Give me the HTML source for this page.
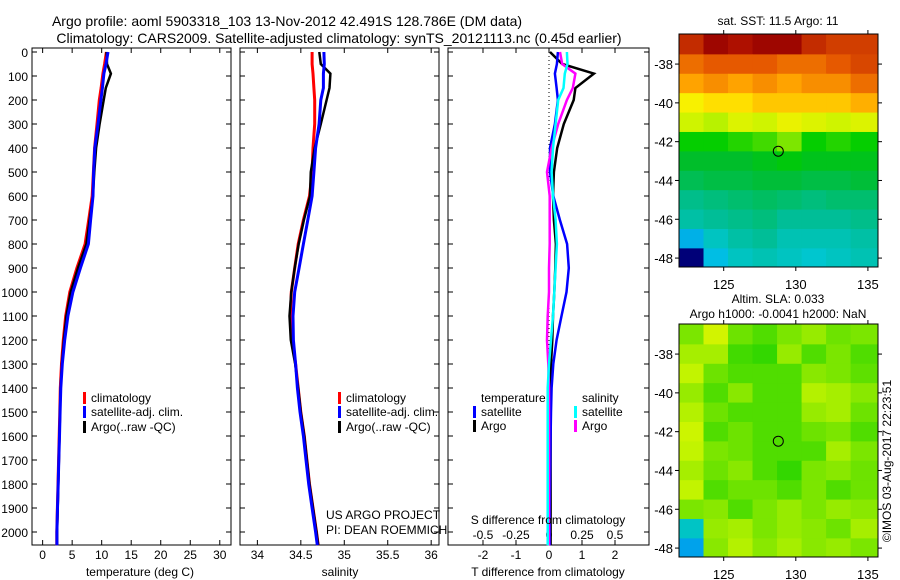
<!DOCTYPE html>
<html><head><meta charset="utf-8"><style>
html,body{margin:0;padding:0;background:#fff;}
svg{display:block;font-family:"Liberation Sans",sans-serif;}
</style></head><body>
<svg id="fig" width="900" height="580" viewBox="0 0 900 580">
<text x="287" y="26" font-size="14" text-anchor="middle">Argo profile: aoml 5903318_103 13-Nov-2012 42.491S 128.786E (DM data)</text>
<text x="339" y="43" font-size="14" text-anchor="middle">Climatology: CARS2009. Satellite-adjusted climatology: synTS_20121113.nc (0.45d earlier)</text>
<text x="778" y="25" font-size="12" text-anchor="middle">sat. SST: 11.5 Argo: 11</text>
<text x="778" y="303" font-size="12" text-anchor="middle">Altim. SLA: 0.033</text>
<text x="778" y="318" font-size="12" text-anchor="middle">Argo h1000: -0.0041 h2000: NaN</text>
<text transform="translate(891,461) rotate(-90)" font-size="12" text-anchor="middle">©IMOS 03-Aug-2017 22:23:51</text>
<text x="326" y="519" font-size="12">US ARGO PROJECT</text>
<text x="326" y="534" font-size="12">PI: DEAN ROEMMICH</text>
</svg>
<script>
const depths=[0,50,90,150,200,300,400,500,600,700,800,900,1000,1100,1200,1300,1400,1500,1600,1700,1800,1900,2000,2055];
const tClim=[10.8,10.5,10.2,9.9,9.6,9.2,8.8,8.6,8.4,7.8,7.2,5.8,4.6,3.9,3.5,3.2,3.0,2.9,2.8,2.7,2.6,2.5,2.4,2.4];
const tSatDiff=[0.27,0.24,0.18,0.23,0.27,0.18,0.03,0.03,0.13,0.33,0.55,0.6,0.53,0.38,0.23,0.13,0.08,0.06,0.05,0.04,0.03,0.02,0.02,0.02];
const tArgoDiff=[0.03,0.4,1.36,0.8,0.75,0.45,0.25,0.15,0.12,0.15,0.21,0.19,0.16,0.12,0.1,0.06,0.05,0.05,0.05,0.05,0.05,0.05,0.05,0.05];
const sClim=[34.63,34.63,34.64,34.65,34.66,34.66,34.64,34.63,34.6,34.53,34.47,34.43,34.39,34.38,34.4,34.44,34.47,34.5,34.54,34.57,34.6,34.64,34.68,34.7];
const sSatDiff=[0.136,0.14,0.12,0.11,0.07,0.05,0.03,0.02,0.03,0.05,0.06,0.05,0.04,0.03,0.015,0,-0.01,-0.01,-0.01,-0.01,-0.01,-0.01,-0.01,-0.01];
const sArgoDiff=[0.083,0.1,0.2,0.18,0.136,0.07,0.02,-0.015,0.005,0.005,0.005,0,0,-0.01,-0.015,-0.005,0,0,0,0,0,0,0,0];
const depthTicks=[0,100,200,300,400,500,600,700,800,900,1000,1100,1200,1300,1400,1500,1600,1700,1800,1900,2000];
const tTicks=[0,5,10,15,20,25,30];
const sTicks=[34,34.5,35,35.5,36];
const dTTicks=[-2,-1,0,1,2];
const dSTicks=[-0.5,-0.25,0,0.25,0.5];
const lonTicks=[125,130,135];
const latTicks=[-38,-40,-42,-44,-46,-48];
const lonEdges=[121.9,123.6,125.3,127.0,128.7,130.4,132.1,133.8,135.7];
const latEdges=[-36.45,-37.5,-38.5,-39.5,-40.5,-41.5,-42.5,-43.5,-44.5,-45.5,-46.5,-47.5,-48.46];
const sstGrid=[
[14.5,15,14.8,15,15,14.5,14.3,14.3],
[13.8,14,14,14,13.8,13.8,14,14.2],
[13.3,13.5,13.3,13.5,13.3,13.5,13.5,13.8],
[12.6,12.8,12.8,13,13,13,13,13.2],
[12.3,12.2,12.4,12.3,12.5,12.4,12.3,12.4],
[11.6,11.6,11.7,11.8,12,11.6,11.7,11.6],
[11.3,11.3,11.3,11.4,11.5,11.4,11.4,11.4],
[11,11.1,11.1,11.2,11.2,11.1,11.1,11.2],
[10.6,10.7,10.8,10.9,10.8,10.7,10.8,10.8],
[10.4,10.5,10.6,10.7,10.5,10.5,10.5,10.6],
[9.8,10.2,10.4,10.5,10.3,10.3,10.3,10.4],
[8.5,9.9,10.2,10.3,10.2,10.1,10.2,10.3]];
const slaGrid=[
[0.03,0.1,0.02,0,0.03,0.05,0.02,0.03],
[0.06,0.06,-0.01,-0.02,0.05,0,0.03,0],
[0.08,0.02,0,0,0,0.04,0.03,0.01],
[0.05,0,0.04,0,0,0.07,0.06,0.04],
[0.07,0.02,0,0,0,0.05,0.06,0.02],
[0.09,0,0.02,0,0,0.02,0.03,0],
[0.08,0.03,0.02,0,0,0,0.06,0.03],
[0.06,0.02,0.04,0,-0.02,0.03,0.04,0.02],
[0.08,0,0.02,0.02,0,0.03,0,0.02],
[0.03,0.04,0,0.03,0.05,0.03,0.05,0.04],
[-0.35,0.05,0.06,0.03,0.05,0.04,0.02,0.06],
[-0.45,0.04,0.07,0.04,0.06,0.04,0.05,0.03]];
const argoLon=128.786, argoLat=-42.491;

const NS='http://www.w3.org/2000/svg';
const svg=document.getElementById('fig');
function mk(tag,attrs,parent){const e=document.createElementNS(NS,tag);for(const k in attrs)e.setAttribute(k,attrs[k]);(parent||svg).appendChild(e);return e;}
const yD=d=>52+(d/2000)*480;
const PT=48,PB=545;
function panel(x0,x1,xmin,xmax,name){
  const sx=v=>x0+(v-xmin)/(xmax-xmin)*(x1-x0);
  const r=mk('rect',{x:x0,y:PT,width:x1-x0,height:PB-PT,fill:'none',stroke:'#000','stroke-width':1});
  
  
  depthTicks.forEach(d=>{
    const l=mk('line',{x1:x0,x2:x0+5,y1:yD(d),y2:yD(d),stroke:'#000'});
    
    
    const l2=mk('line',{x1:x1-5,x2:x1,y1:yD(d),y2:yD(d),stroke:'#000'});
    
    
  });
  return sx;
}
function line(pts,color,w,name){
  const p=mk('polyline',{points:pts.map(q=>q[0].toFixed(1)+','+q[1].toFixed(1)).join(' '),fill:'none',stroke:color,'stroke-width':w,'stroke-linejoin':'miter'});
  
  
}
function xticks(sx,ticks,name,labelY,fmt){
  ticks.forEach(v=>{
    const x=sx(v);
    const a=mk('line',{x1:x,x2:x,y1:PB,y2:PB-5,stroke:'#000'});
    
    
    const b=mk('line',{x1:x,x2:x,y1:PT,y2:PT+5,stroke:'#000'});
    
    
    if(labelY){const t=mk('text',{x:x,y:labelY,'font-size':12,'text-anchor':'middle'});t.textContent=fmt?fmt(v):String(v);
    
    }
  });
}
function legendItem(x,y,color,label,name){
  const b=mk('rect',{x:x,y:y-10,width:3,height:12,fill:color});
  
  
  const t=mk('text',{x:x+8,y:y,'font-size':12});t.textContent=label;
  
  
}
depthTicks.forEach(d=>{const t=mk('text',{x:28,y:yD(d)+5,'font-size':12,'text-anchor':'end'});t.textContent=d;
  
  });

const sxT=panel(32,231,-1.8,31.9,'temperature-panel');
xticks(sxT,tTicks,'temperature-axis',559);
line(depths.map((d,i)=>[sxT(tClim[i]),yD(d)]),'#ff0000',3,'temperature-climatology-line');
line(depths.map((d,i)=>[sxT(tClim[i]+tArgoDiff[i]),yD(d)]),'#000000',2.5,'temperature-argo-line');
line(depths.map((d,i)=>[sxT(tClim[i]+tSatDiff[i]),yD(d)]),'#0000ff',3,'temperature-satellite-line');
{const t=mk('text',{x:140,y:576,'font-size':12,'text-anchor':'middle'});t.textContent='temperature (deg C)';
}
legendItem(83,402,'#ff0000','climatology','temp-legend-climatology');
legendItem(83,416,'#0000ff','satellite-adj. clim.','temp-legend-satellite');
legendItem(83,431,'#000000','Argo(..raw -QC)','temp-legend-argo');

const sxS=panel(240,439,33.8,36.09,'salinity-panel');
xticks(sxS,sTicks,'salinity-axis',559);
line(depths.map((d,i)=>[sxS(sClim[i]),yD(d)]),'#ff0000',3,'salinity-climatology-line');
line(depths.map((d,i)=>[sxS(sClim[i]+sArgoDiff[i]),yD(d)]),'#000000',2.5,'salinity-argo-line');
line(depths.map((d,i)=>[sxS(sClim[i]+sSatDiff[i]),yD(d)]),'#0000ff',3,'salinity-satellite-line');
{const t=mk('text',{x:340,y:576,'font-size':12,'text-anchor':'middle'});t.textContent='salinity';
}
legendItem(338,402,'#ff0000','climatology','sal-legend-climatology');
legendItem(338,416,'#0000ff','satellite-adj. clim.','sal-legend-satellite');
legendItem(338,431,'#000000','Argo(..raw -QC)','sal-legend-argo');

const sxdT=panel(448,649,-3.06,3.03,'difference-panel');
const sxdS=v=>sxdT(v*4);
xticks(sxdT,dTTicks,'t-diff-axis',559);
dSTicks.forEach(v=>{const t=mk('text',{x:sxdS(v),y:539,'font-size':12,'text-anchor':'middle'});t.textContent=String(v);
  });
{const z=mk('line',{x1:sxdT(0),x2:sxdT(0),y1:PT,y2:PB,stroke:'#000','stroke-dasharray':'1,3'});
}
line(depths.map((d,i)=>[sxdT(tArgoDiff[i]),yD(d)]),'#000000',2.5,'t-diff-argo-line');
line(depths.map((d,i)=>[sxdT(tSatDiff[i]),yD(d)]),'#0000ff',2.5,'t-diff-satellite-line');
line(depths.map((d,i)=>[sxdS(sArgoDiff[i]),yD(d)]),'#ff00ff',2.5,'s-diff-argo-line');
line(depths.map((d,i)=>[sxdS(sSatDiff[i]),yD(d)]),'#00ffff',2.5,'s-diff-satellite-line');
{const t=mk('text',{x:548,y:524,'font-size':12,'text-anchor':'middle'});t.textContent='S difference from climatology';

const t2=mk('text',{x:548,y:576,'font-size':12,'text-anchor':'middle'});t2.textContent='T difference from climatology';

const t3=mk('text',{x:481,y:402,'font-size':12});t3.textContent='temperature';

const t4=mk('text',{x:582,y:402,'font-size':12});t4.textContent='salinity';
}
legendItem(473,416,'#0000ff','satellite','diff-legend-t-satellite');
legendItem(473,430,'#000000','Argo','diff-legend-t-argo');
legendItem(574,416,'#00ffff','satellite','diff-legend-s-satellite');
legendItem(574,430,'#ff00ff','Argo','diff-legend-s-argo');

const cmStops=[[0,0,0,120],[0.1,0,90,255],[0.22,0,200,225],[0.3,0,190,150],[0.42,0,190,40],[0.46,0,205,0],[0.56,200,245,0],[0.62,255,240,0],[0.72,255,160,0],[0.82,230,90,0],[0.95,170,10,0],[1,140,0,0]];
function cmap(f){f=Math.max(0,Math.min(1,f));
  for(let k=1;k<cmStops.length;k++){const a=cmStops[k-1],b=cmStops[k];
    if(f<=b[0]){const t=(f-a[0])/(b[0]-a[0]);
      return 'rgb('+[1,2,3].map(q=>Math.round(a[q]+t*(b[q]-a[q]))).join(',')+')';}}
  return 'rgb(140,0,0)';}
function map(top,grid,vmin,vmax,name){
  const L=679,R=878,B=top+233;
  const sx=lon=>L+(lon-121.9)/(135.7-121.9)*(R-L);
  const sy=lat=>top+(lat-(-36.45))/(-48.46+36.45)*(B-top);
  grid.forEach((row,i)=>row.forEach((v,j)=>{
    const x0=sx(lonEdges[j]),x1=sx(lonEdges[j+1]),y0=sy(latEdges[i]),y1=sy(latEdges[i+1]);
    const c=mk('rect',{x:x0,y:y0,width:x1-x0+0.5,height:y1-y0+0.5,fill:cmap((v-vmin)/(vmax-vmin))});
    
    
  }));
  const f=mk('rect',{x:L,y:top,width:R-L,height:B-top,fill:'none',stroke:'#000'});
  
  lonTicks.forEach(v=>{const x=sx(v);
    const a=mk('line',{x1:x,x2:x,y1:top,y2:top-4,stroke:'#000'});
    const b=mk('line',{x1:x,x2:x,y1:B,y2:B+4,stroke:'#000'});
    const t=mk('text',{x:x,y:B+22,'font-size':13,'text-anchor':'middle'});t.textContent=v;
    });
  latTicks.forEach(v=>{const y=sy(v);
    const a=mk('line',{x1:L,x2:L-4,y1:y,y2:y,stroke:'#000'});
    const b=mk('line',{x1:R,x2:R+4,y1:y,y2:y,stroke:'#000'});
    const t=mk('text',{x:673,y:y+5,'font-size':13,'text-anchor':'end'});t.textContent=v;
    });
  const m=mk('circle',{cx:sx(argoLon),cy:sy(argoLat),r:5,fill:'none',stroke:'#000'});
  
}
map(34,sstGrid,8.5,15.2,'sst-map');
map(324,slaGrid,-0.7,0.7,'sla-map');
</script>
</body></html>
